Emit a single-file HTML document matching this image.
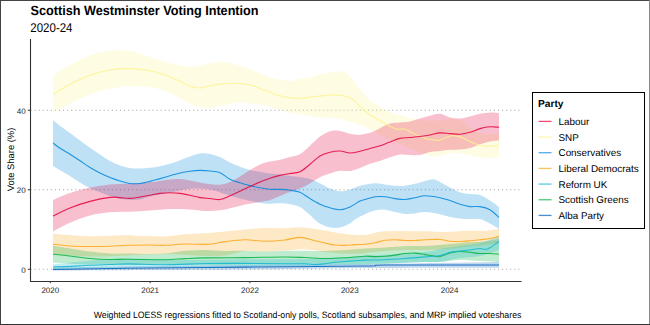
<!DOCTYPE html>
<html><head><meta charset="utf-8"><style>
html,body{margin:0;padding:0;background:#fff;}
body{width:650px;height:325px;overflow:hidden;position:relative;}
svg{position:absolute;left:0;top:0;}
text{font-family:"Liberation Sans",sans-serif;text-rendering:geometricPrecision;}
</style></head><body>
<svg width="650" height="325" viewBox="0 0 650 325">
<rect x="0" y="0" width="650" height="325" fill="#fff"/>
<g>
</g>
<g font-size="8" fill="#262626">
<line x1="27.8" x2="30.5" y1="269.25" y2="269.25" stroke="#333" stroke-width="1"/>
<line x1="30.5" x2="519.6" y1="269.25" y2="269.25" stroke="#A8A8A8" stroke-width="1" stroke-dasharray="1.1 2.965"/>
<text x="25.6" y="272.65" text-anchor="end">0</text>
<line x1="27.8" x2="30.5" y1="189.75" y2="189.75" stroke="#333" stroke-width="1"/>
<line x1="30.5" x2="519.6" y1="189.75" y2="189.75" stroke="#A8A8A8" stroke-width="1" stroke-dasharray="1.1 2.965"/>
<text x="25.6" y="193.15" text-anchor="end">20</text>
<line x1="27.8" x2="30.5" y1="110.25" y2="110.25" stroke="#333" stroke-width="1"/>
<line x1="30.5" x2="519.6" y1="110.25" y2="110.25" stroke="#A8A8A8" stroke-width="1" stroke-dasharray="1.1 2.965"/>
<text x="25.6" y="113.65" text-anchor="end">40</text>
<line x1="50.30" x2="50.30" y1="281" y2="283.2" stroke="#333" stroke-width="1"/>
<text x="50.30" y="292.5" text-anchor="middle">2020</text>
<line x1="150.13" x2="150.13" y1="281" y2="283.2" stroke="#333" stroke-width="1"/>
<text x="150.13" y="292.5" text-anchor="middle">2021</text>
<line x1="249.96" x2="249.96" y1="281" y2="283.2" stroke="#333" stroke-width="1"/>
<text x="249.96" y="292.5" text-anchor="middle">2022</text>
<line x1="349.79" x2="349.79" y1="281" y2="283.2" stroke="#333" stroke-width="1"/>
<text x="349.79" y="292.5" text-anchor="middle">2023</text>
<line x1="449.62" x2="449.62" y1="281" y2="283.2" stroke="#333" stroke-width="1"/>
<text x="449.62" y="292.5" text-anchor="middle">2024</text>
</g>
<g>
<path d="M53.00 267.50 C65.50 267.33 96.00 266.92 128.00 266.50 C160.00 266.08 205.50 265.42 245.00 265.00 C284.50 264.58 322.67 264.50 365.00 264.00 C407.33 263.50 476.67 262.33 499.00 262.00 L499.00 267.70 C476.67 267.75 407.33 267.70 365.00 268.00 C322.67 268.30 297.00 269.08 245.00 269.50 C193.00 269.92 85.00 270.33 53.00 270.50 Z" fill="#005EB8" fill-opacity="0.25"/>
<path d="M53.00 233.80 C59.17 234.20 78.00 235.97 90.00 236.20 C102.00 236.43 115.83 235.22 125.00 235.20 C134.17 235.18 138.33 235.90 145.00 236.10 C151.67 236.30 158.33 236.72 165.00 236.40 C171.67 236.08 178.33 234.73 185.00 234.20 C191.67 233.67 198.33 233.65 205.00 233.20 C211.67 232.75 218.33 232.12 225.00 231.50 C231.67 230.88 238.33 230.08 245.00 229.50 C251.67 228.92 258.33 228.22 265.00 228.00 C271.67 227.78 279.17 228.33 285.00 228.20 C290.83 228.07 293.33 226.82 300.00 227.20 C306.67 227.58 317.50 229.37 325.00 230.50 C332.50 231.63 338.33 233.25 345.00 234.00 C351.67 234.75 358.33 235.47 365.00 235.00 C371.67 234.53 375.00 231.83 385.00 231.20 C395.00 230.57 415.00 231.07 425.00 231.20 C435.00 231.33 438.33 232.08 445.00 232.00 C451.67 231.92 458.33 230.92 465.00 230.70 C471.67 230.48 479.33 231.02 485.00 230.70 C490.67 230.38 496.67 229.12 499.00 228.80 L499.00 243.60 C496.67 243.83 490.67 244.43 485.00 245.00 C479.33 245.57 471.67 246.30 465.00 247.00 C458.33 247.70 451.67 248.70 445.00 249.20 C438.33 249.70 431.67 249.87 425.00 250.00 C418.33 250.13 411.67 249.83 405.00 250.00 C398.33 250.17 391.67 250.50 385.00 251.00 C378.33 251.50 369.17 252.58 365.00 253.00 C360.83 253.42 363.33 253.38 360.00 253.50 C356.67 253.62 350.83 253.95 345.00 253.70 C339.17 253.45 331.67 252.75 325.00 252.00 C318.33 251.25 311.67 249.45 305.00 249.20 C298.33 248.95 291.67 250.07 285.00 250.50 C278.33 250.93 271.67 251.72 265.00 251.80 C258.33 251.88 251.67 250.38 245.00 251.00 C238.33 251.62 231.67 254.67 225.00 255.50 C218.33 256.33 215.00 256.25 205.00 256.00 C195.00 255.75 177.83 254.08 165.00 254.00 C152.17 253.92 140.50 255.08 128.00 255.50 C115.50 255.92 102.50 256.75 90.00 256.50 C77.50 256.25 59.17 254.42 53.00 254.00 Z" fill="#FAA61A" fill-opacity="0.25"/>
<path d="M53.00 245.80 C55.83 246.25 63.83 247.53 70.00 248.50 C76.17 249.47 83.33 250.77 90.00 251.60 C96.67 252.43 103.67 253.18 110.00 253.50 C116.33 253.82 122.17 253.42 128.00 253.50 C133.83 253.58 138.83 253.98 145.00 254.00 C151.17 254.02 158.33 254.13 165.00 253.60 C171.67 253.07 178.33 251.40 185.00 250.80 C191.67 250.20 198.33 249.97 205.00 250.00 C211.67 250.03 218.33 250.87 225.00 251.00 C231.67 251.13 238.33 250.72 245.00 250.80 C251.67 250.88 258.33 251.50 265.00 251.50 C271.67 251.50 278.33 250.92 285.00 250.80 C291.67 250.68 298.33 250.77 305.00 250.80 C311.67 250.83 318.33 251.13 325.00 251.00 C331.67 250.87 338.33 250.42 345.00 250.00 C351.67 249.58 358.33 248.92 365.00 248.50 C371.67 248.08 378.33 247.88 385.00 247.50 C391.67 247.12 398.33 246.45 405.00 246.20 C411.67 245.95 418.33 246.28 425.00 246.00 C431.67 245.72 438.33 245.08 445.00 244.50 C451.67 243.92 458.33 243.00 465.00 242.50 C471.67 242.00 479.33 242.08 485.00 241.50 C490.67 240.92 496.67 239.42 499.00 239.00 L499.00 262.00 C495.83 261.83 486.50 261.33 480.00 261.00 C473.50 260.67 466.67 259.83 460.00 260.00 C453.33 260.17 445.83 261.67 440.00 262.00 C434.17 262.33 437.50 261.67 425.00 262.00 C412.50 262.33 385.00 263.58 365.00 264.00 C345.00 264.42 331.67 264.33 305.00 264.50 C278.33 264.67 234.50 264.92 205.00 265.00 C175.50 265.08 147.17 265.08 128.00 265.00 C108.83 264.92 102.50 264.88 90.00 264.50 C77.50 264.12 59.17 263.00 53.00 262.70 Z" fill="#00B140" fill-opacity="0.25"/>
<path d="M53.00 264.20 C55.83 263.95 63.83 263.27 70.00 262.70 C76.17 262.13 83.33 261.32 90.00 260.80 C96.67 260.28 103.67 260.00 110.00 259.60 C116.33 259.20 115.50 258.33 128.00 258.40 C140.50 258.47 165.50 259.87 185.00 260.00 C204.50 260.13 225.00 259.37 245.00 259.20 C265.00 259.03 285.00 259.53 305.00 259.00 C325.00 258.47 345.00 257.17 365.00 256.00 C385.00 254.83 412.50 253.17 425.00 252.00 C437.50 250.83 434.17 250.00 440.00 249.00 C445.83 248.00 453.33 247.00 460.00 246.00 C466.67 245.00 473.50 244.67 480.00 243.00 C486.50 241.33 495.83 237.17 499.00 236.00 L499.00 250.00 C495.83 251.00 486.50 254.67 480.00 256.00 C473.50 257.33 466.67 257.00 460.00 258.00 C453.33 259.00 445.83 261.33 440.00 262.00 C434.17 262.67 437.50 261.58 425.00 262.00 C412.50 262.42 395.00 263.67 365.00 264.50 C335.00 265.33 284.50 266.42 245.00 267.00 C205.50 267.58 160.00 267.58 128.00 268.00 C96.00 268.42 65.50 269.25 53.00 269.50 Z" fill="#12B6CF" fill-opacity="0.25"/>
<path d="M53.00 120.20 C54.17 121.12 57.17 123.55 60.00 125.70 C62.83 127.85 66.67 130.63 70.00 133.10 C73.33 135.57 76.67 138.05 80.00 140.50 C83.33 142.95 86.67 145.47 90.00 147.80 C93.33 150.13 96.67 152.30 100.00 154.50 C103.33 156.70 106.67 159.17 110.00 161.00 C113.33 162.83 116.67 164.33 120.00 165.50 C123.33 166.67 126.67 167.50 130.00 168.00 C133.33 168.50 136.67 168.53 140.00 168.50 C143.33 168.47 146.67 168.18 150.00 167.80 C153.33 167.42 156.67 166.87 160.00 166.20 C163.33 165.53 166.67 164.80 170.00 163.80 C173.33 162.80 176.67 161.42 180.00 160.20 C183.33 158.98 186.67 157.62 190.00 156.50 C193.33 155.38 196.67 153.93 200.00 153.50 C203.33 153.07 206.67 153.32 210.00 153.90 C213.33 154.48 216.67 155.57 220.00 157.00 C223.33 158.43 226.67 160.87 230.00 162.50 C233.33 164.13 236.67 165.55 240.00 166.80 C243.33 168.05 246.67 169.17 250.00 170.00 C253.33 170.83 256.67 171.20 260.00 171.80 C263.33 172.40 266.67 173.15 270.00 173.60 C273.33 174.05 275.83 174.02 280.00 174.50 C284.17 174.98 290.00 175.75 295.00 176.50 C300.00 177.25 305.83 177.83 310.00 179.00 C314.17 180.17 316.67 181.92 320.00 183.50 C323.33 185.08 326.67 187.22 330.00 188.50 C333.33 189.78 336.67 191.05 340.00 191.20 C343.33 191.35 346.67 190.32 350.00 189.40 C353.33 188.48 355.83 186.72 360.00 185.70 C364.17 184.68 370.83 183.52 375.00 183.30 C379.17 183.08 381.67 184.00 385.00 184.40 C388.33 184.80 391.67 185.48 395.00 185.70 C398.33 185.92 401.67 186.02 405.00 185.70 C408.33 185.38 411.67 184.58 415.00 183.80 C418.33 183.02 422.00 181.77 425.00 181.00 C428.00 180.23 430.50 179.03 433.00 179.20 C435.50 179.37 437.17 180.62 440.00 182.00 C442.83 183.38 446.67 185.80 450.00 187.50 C453.33 189.20 456.67 191.12 460.00 192.20 C463.33 193.28 466.67 193.53 470.00 194.00 C473.33 194.47 476.67 193.92 480.00 195.00 C483.33 196.08 486.83 198.50 490.00 200.50 C493.17 202.50 497.50 205.92 499.00 207.00 L499.00 229.00 C497.50 228.08 493.17 225.17 490.00 223.50 C486.83 221.83 483.33 219.75 480.00 219.00 C476.67 218.25 473.33 219.10 470.00 219.00 C466.67 218.90 463.33 218.73 460.00 218.40 C456.67 218.07 453.33 217.68 450.00 217.00 C446.67 216.32 444.17 215.12 440.00 214.30 C435.83 213.48 429.17 212.25 425.00 212.10 C420.83 211.95 418.33 213.10 415.00 213.40 C411.67 213.70 408.33 214.12 405.00 213.90 C401.67 213.68 398.33 212.80 395.00 212.10 C391.67 211.40 388.33 209.95 385.00 209.70 C381.67 209.45 378.33 209.83 375.00 210.60 C371.67 211.37 368.33 212.82 365.00 214.30 C361.67 215.78 357.50 217.97 355.00 219.50 C352.50 221.03 352.50 222.17 350.00 223.50 C347.50 224.83 343.33 226.83 340.00 227.50 C336.67 228.17 333.33 228.17 330.00 227.50 C326.67 226.83 322.67 224.92 320.00 223.50 C317.33 222.08 315.67 220.42 314.00 219.00 C312.33 217.58 312.33 217.00 310.00 215.00 C307.67 213.00 303.33 208.80 300.00 207.00 C296.67 205.20 293.33 204.83 290.00 204.20 C286.67 203.57 284.17 203.32 280.00 203.20 C275.83 203.08 270.83 204.08 265.00 203.50 C259.17 202.92 251.67 201.28 245.00 199.70 C238.33 198.12 230.83 195.70 225.00 194.00 C219.17 192.30 215.83 190.38 210.00 189.50 C204.17 188.62 196.67 188.20 190.00 188.70 C183.33 189.20 176.67 191.20 170.00 192.50 C163.33 193.80 155.00 195.33 150.00 196.50 C145.00 197.67 144.17 199.00 140.00 199.50 C135.83 200.00 130.00 200.08 125.00 199.50 C120.00 198.92 115.83 197.92 110.00 196.00 C104.17 194.08 95.00 190.25 90.00 188.00 C85.00 185.75 84.17 185.00 80.00 182.50 C75.83 180.00 69.50 175.75 65.00 173.00 C60.50 170.25 55.00 167.17 53.00 166.00 Z" fill="#0087DC" fill-opacity="0.25"/>
<path d="M53.00 76.00 C55.83 74.17 63.83 68.42 70.00 65.00 C76.17 61.58 83.33 57.87 90.00 55.50 C96.67 53.13 103.33 51.55 110.00 50.80 C116.67 50.05 123.33 49.97 130.00 51.00 C136.67 52.03 143.33 55.00 150.00 57.00 C156.67 59.00 163.33 61.37 170.00 63.00 C176.67 64.63 183.33 66.72 190.00 66.80 C196.67 66.88 205.00 64.30 210.00 63.50 C215.00 62.70 216.67 62.10 220.00 62.00 C223.33 61.90 226.67 62.28 230.00 62.90 C233.33 63.52 236.67 64.68 240.00 65.70 C243.33 66.72 245.00 67.07 250.00 69.00 C255.00 70.93 263.67 75.30 270.00 77.30 C276.33 79.30 283.00 80.72 288.00 81.00 C293.00 81.28 296.33 79.63 300.00 79.00 C303.67 78.37 306.67 77.97 310.00 77.20 C313.33 76.43 316.67 75.18 320.00 74.40 C323.33 73.62 327.17 73.03 330.00 72.50 C332.83 71.97 334.50 71.20 337.00 71.20 C339.50 71.20 342.83 71.67 345.00 72.50 C347.17 73.33 348.33 74.50 350.00 76.20 C351.67 77.90 353.33 80.53 355.00 82.70 C356.67 84.87 357.50 86.28 360.00 89.20 C362.50 92.12 366.67 97.28 370.00 100.20 C373.33 103.12 376.67 104.65 380.00 106.70 C383.33 108.75 386.67 111.07 390.00 112.50 C393.33 113.93 396.67 114.38 400.00 115.30 C403.33 116.22 405.00 117.05 410.00 118.00 C415.00 118.95 423.33 120.83 430.00 121.00 C436.67 121.17 445.00 119.17 450.00 119.00 C455.00 118.83 456.67 118.55 460.00 120.00 C463.33 121.45 466.67 125.50 470.00 127.70 C473.33 129.90 476.67 132.12 480.00 133.20 C483.33 134.28 486.83 134.07 490.00 134.20 C493.17 134.33 497.50 134.03 499.00 134.00 L499.00 157.20 C497.50 157.37 493.17 158.20 490.00 158.20 C486.83 158.20 483.33 157.67 480.00 157.20 C476.67 156.73 473.33 156.02 470.00 155.40 C466.67 154.78 463.33 153.90 460.00 153.50 C456.67 153.10 453.33 152.58 450.00 153.00 C446.67 153.42 443.33 155.50 440.00 156.00 C436.67 156.50 433.33 156.67 430.00 156.00 C426.67 155.33 423.33 153.33 420.00 152.00 C416.67 150.67 413.33 149.33 410.00 148.00 C406.67 146.67 403.33 145.33 400.00 144.00 C396.67 142.67 393.33 141.50 390.00 140.00 C386.67 138.50 383.33 136.80 380.00 135.00 C376.67 133.20 373.33 130.95 370.00 129.20 C366.67 127.45 363.33 125.73 360.00 124.50 C356.67 123.27 353.33 122.72 350.00 121.80 C346.67 120.88 343.33 119.62 340.00 119.00 C336.67 118.38 333.33 118.40 330.00 118.10 C326.67 117.80 325.83 117.97 320.00 117.20 C314.17 116.43 302.17 114.87 295.00 113.50 C287.83 112.13 282.17 110.38 277.00 109.00 C271.83 107.62 270.17 106.28 264.00 105.20 C257.83 104.12 246.50 102.53 240.00 102.50 C233.50 102.47 230.83 104.08 225.00 105.00 C219.17 105.92 210.83 108.17 205.00 108.00 C199.17 107.83 195.83 106.52 190.00 104.00 C184.17 101.48 176.67 95.68 170.00 92.90 C163.33 90.12 156.67 88.40 150.00 87.30 C143.33 86.20 136.67 86.07 130.00 86.30 C123.33 86.53 116.67 87.38 110.00 88.70 C103.33 90.02 96.67 91.73 90.00 94.20 C83.33 96.67 76.17 100.43 70.00 103.50 C63.83 106.57 55.83 111.08 53.00 112.60 Z" fill="#FDF38E" fill-opacity="0.25"/>
<path d="M53.00 200.00 C55.83 198.83 63.83 195.08 70.00 193.00 C76.17 190.92 83.33 188.90 90.00 187.50 C96.67 186.10 103.33 185.28 110.00 184.60 C116.67 183.92 123.33 183.78 130.00 183.40 C136.67 183.02 143.33 182.95 150.00 182.30 C156.67 181.65 165.00 180.05 170.00 179.50 C175.00 178.95 176.67 178.83 180.00 179.00 C183.33 179.17 185.83 179.75 190.00 180.50 C194.17 181.25 200.00 182.80 205.00 183.50 C210.00 184.20 215.83 184.95 220.00 184.70 C224.17 184.45 226.67 183.38 230.00 182.00 C233.33 180.62 236.67 178.40 240.00 176.40 C243.33 174.40 246.67 172.00 250.00 170.00 C253.33 168.00 256.67 165.80 260.00 164.40 C263.33 163.00 266.67 162.38 270.00 161.60 C273.33 160.82 276.67 160.48 280.00 159.70 C283.33 158.92 286.67 157.82 290.00 156.90 C293.33 155.98 296.67 156.05 300.00 154.20 C303.33 152.35 306.67 148.73 310.00 145.80 C313.33 142.87 316.67 139.03 320.00 136.60 C323.33 134.17 326.67 132.13 330.00 131.20 C333.33 130.27 336.67 130.57 340.00 131.00 C343.33 131.43 346.67 133.18 350.00 133.80 C353.33 134.42 356.67 134.87 360.00 134.70 C363.33 134.53 366.67 133.88 370.00 132.80 C373.33 131.72 376.67 129.73 380.00 128.20 C383.33 126.67 386.67 124.53 390.00 123.60 C393.33 122.67 396.67 122.95 400.00 122.60 C403.33 122.25 406.67 122.18 410.00 121.50 C413.33 120.82 416.67 119.47 420.00 118.50 C423.33 117.53 426.67 116.48 430.00 115.70 C433.33 114.92 436.67 113.50 440.00 113.80 C443.33 114.10 446.67 116.72 450.00 117.50 C453.33 118.28 456.67 118.65 460.00 118.50 C463.33 118.35 466.67 117.38 470.00 116.60 C473.33 115.82 476.67 114.47 480.00 113.80 C483.33 113.13 486.83 112.68 490.00 112.60 C493.17 112.52 497.50 113.18 499.00 113.30 L499.00 140.60 C497.50 140.75 493.17 140.88 490.00 141.50 C486.83 142.12 483.33 143.22 480.00 144.30 C476.67 145.38 473.33 147.13 470.00 148.00 C466.67 148.87 463.33 149.20 460.00 149.50 C456.67 149.80 453.33 149.55 450.00 149.80 C446.67 150.05 443.33 150.63 440.00 151.00 C436.67 151.37 433.33 151.33 430.00 152.00 C426.67 152.67 423.33 154.50 420.00 155.00 C416.67 155.50 413.33 155.08 410.00 155.00 C406.67 154.92 403.33 154.12 400.00 154.50 C396.67 154.88 393.33 156.22 390.00 157.30 C386.67 158.38 383.33 159.92 380.00 161.00 C376.67 162.08 373.33 162.63 370.00 163.80 C366.67 164.97 363.33 166.80 360.00 168.00 C356.67 169.20 353.33 170.53 350.00 171.00 C346.67 171.47 343.33 170.38 340.00 170.80 C336.67 171.22 333.33 172.43 330.00 173.50 C326.67 174.57 324.17 175.08 320.00 177.20 C315.83 179.32 310.00 183.73 305.00 186.20 C300.00 188.67 294.17 190.37 290.00 192.00 C285.83 193.63 283.33 194.67 280.00 196.00 C276.67 197.33 273.33 199.00 270.00 200.00 C266.67 201.00 264.17 201.23 260.00 202.00 C255.83 202.77 250.83 203.35 245.00 204.60 C239.17 205.85 231.67 208.43 225.00 209.50 C218.33 210.57 210.83 211.00 205.00 211.00 C199.17 211.00 195.83 209.83 190.00 209.50 C184.17 209.17 176.67 208.83 170.00 209.00 C163.33 209.17 156.67 210.05 150.00 210.50 C143.33 210.95 136.67 211.42 130.00 211.70 C123.33 211.98 116.67 211.58 110.00 212.20 C103.33 212.82 96.67 213.63 90.00 215.40 C83.33 217.17 76.17 220.13 70.00 222.80 C63.83 225.47 55.83 229.97 53.00 231.40 Z" fill="#E4003B" fill-opacity="0.25"/>
</g>
<g>
<path d="M53.00 269.50 C65.50 269.28 96.00 268.60 128.00 268.20 C160.00 267.80 205.50 267.47 245.00 267.10 C284.50 266.73 341.67 266.35 365.00 266.00 C388.33 265.65 362.67 265.17 385.00 265.00 C407.33 264.83 480.00 265.00 499.00 265.00" fill="none" stroke="#005EB8" stroke-width="1.1" stroke-opacity="0.85"/>
<path d="M53.00 244.20 C55.83 244.50 63.83 245.62 70.00 246.00 C76.17 246.38 83.33 246.45 90.00 246.50 C96.67 246.55 103.67 246.50 110.00 246.30 C116.33 246.10 121.33 245.52 128.00 245.30 C134.67 245.08 143.83 245.00 150.00 245.00 C156.17 245.00 159.17 245.47 165.00 245.30 C170.83 245.13 178.33 244.15 185.00 244.00 C191.67 243.85 200.00 244.48 205.00 244.40 C210.00 244.32 211.67 243.97 215.00 243.50 C218.33 243.03 220.00 242.22 225.00 241.60 C230.00 240.98 238.33 239.87 245.00 239.80 C251.67 239.73 258.33 241.17 265.00 241.20 C271.67 241.23 279.17 240.63 285.00 240.00 C290.83 239.37 295.00 237.27 300.00 237.40 C305.00 237.53 310.83 239.87 315.00 240.80 C319.17 241.73 321.67 242.30 325.00 243.00 C328.33 243.70 331.67 244.60 335.00 245.00 C338.33 245.40 341.67 245.47 345.00 245.40 C348.33 245.33 351.67 244.78 355.00 244.60 C358.33 244.42 361.67 244.60 365.00 244.30 C368.33 244.00 371.67 243.47 375.00 242.80 C378.33 242.13 381.67 240.82 385.00 240.30 C388.33 239.78 391.67 239.67 395.00 239.70 C398.33 239.73 401.67 240.37 405.00 240.50 C408.33 240.63 411.67 240.63 415.00 240.50 C418.33 240.37 420.83 239.87 425.00 239.70 C429.17 239.53 435.83 239.25 440.00 239.50 C444.17 239.75 446.67 240.87 450.00 241.20 C453.33 241.53 456.67 241.57 460.00 241.50 C463.33 241.43 466.67 241.10 470.00 240.80 C473.33 240.50 476.67 240.08 480.00 239.70 C483.33 239.32 486.83 239.08 490.00 238.50 C493.17 237.92 497.50 236.58 499.00 236.20" fill="none" stroke="#FAA61A" stroke-width="1.1" stroke-opacity="0.85"/>
<path d="M53.00 254.20 C55.83 254.50 63.83 255.28 70.00 256.00 C76.17 256.72 83.33 257.92 90.00 258.50 C96.67 259.08 103.67 259.38 110.00 259.50 C116.33 259.62 118.83 259.17 128.00 259.20 C137.17 259.23 155.50 259.80 165.00 259.70 C174.50 259.60 178.33 258.90 185.00 258.60 C191.67 258.30 195.00 258.07 205.00 257.90 C215.00 257.73 231.67 257.75 245.00 257.60 C258.33 257.45 275.00 257.02 285.00 257.00 C295.00 256.98 298.33 257.25 305.00 257.50 C311.67 257.75 318.33 258.45 325.00 258.50 C331.67 258.55 338.33 258.18 345.00 257.80 C351.67 257.42 360.00 256.40 365.00 256.20 C370.00 256.00 371.67 256.60 375.00 256.60 C378.33 256.60 381.67 256.45 385.00 256.20 C388.33 255.95 391.67 255.55 395.00 255.10 C398.33 254.65 401.67 253.83 405.00 253.50 C408.33 253.17 411.67 252.92 415.00 253.10 C418.33 253.28 421.67 254.08 425.00 254.60 C428.33 255.12 432.50 255.88 435.00 256.20 C437.50 256.52 437.50 257.03 440.00 256.50 C442.50 255.97 446.67 253.83 450.00 253.00 C453.33 252.17 456.67 251.62 460.00 251.50 C463.33 251.38 466.67 251.97 470.00 252.30 C473.33 252.63 476.67 253.30 480.00 253.50 C483.33 253.70 486.83 253.38 490.00 253.50 C493.17 253.62 497.50 254.08 499.00 254.20" fill="none" stroke="#00B140" stroke-width="1.1" stroke-opacity="0.85"/>
<path d="M53.00 267.00 C55.83 266.90 63.83 266.70 70.00 266.40 C76.17 266.10 83.33 265.52 90.00 265.20 C96.67 264.88 103.67 264.72 110.00 264.50 C116.33 264.28 118.83 263.87 128.00 263.90 C137.17 263.93 152.17 264.77 165.00 264.70 C177.83 264.63 191.67 263.72 205.00 263.50 C218.33 263.28 231.67 263.35 245.00 263.40 C258.33 263.45 275.00 263.73 285.00 263.80 C295.00 263.87 300.00 263.67 305.00 263.80 C310.00 263.93 311.67 264.60 315.00 264.60 C318.33 264.60 321.67 264.18 325.00 263.80 C328.33 263.42 331.67 262.68 335.00 262.30 C338.33 261.92 341.67 261.75 345.00 261.50 C348.33 261.25 351.67 261.03 355.00 260.80 C358.33 260.57 360.00 260.28 365.00 260.10 C370.00 259.92 378.33 259.97 385.00 259.70 C391.67 259.43 398.33 258.97 405.00 258.50 C411.67 258.03 419.17 257.40 425.00 256.90 C430.83 256.40 435.83 256.27 440.00 255.50 C444.17 254.73 446.67 253.05 450.00 252.30 C453.33 251.55 456.67 251.38 460.00 251.00 C463.33 250.62 466.67 250.42 470.00 250.00 C473.33 249.58 477.50 248.58 480.00 248.50 C482.50 248.42 483.33 249.63 485.00 249.50 C486.67 249.37 487.67 249.03 490.00 247.70 C492.33 246.37 497.50 242.53 499.00 241.50" fill="none" stroke="#12B6CF" stroke-width="1.1" stroke-opacity="0.85"/>
<path d="M53.00 143.00 C54.17 143.87 57.17 146.32 60.00 148.20 C62.83 150.08 66.67 152.20 70.00 154.30 C73.33 156.40 76.67 158.60 80.00 160.80 C83.33 163.00 86.67 165.47 90.00 167.50 C93.33 169.53 96.67 171.33 100.00 173.00 C103.33 174.67 106.67 176.17 110.00 177.50 C113.33 178.83 116.67 180.00 120.00 181.00 C123.33 182.00 126.67 183.08 130.00 183.50 C133.33 183.92 136.67 183.85 140.00 183.50 C143.33 183.15 146.67 182.22 150.00 181.40 C153.33 180.58 156.67 179.53 160.00 178.60 C163.33 177.67 166.67 176.73 170.00 175.80 C173.33 174.87 176.67 173.77 180.00 173.00 C183.33 172.23 186.67 171.63 190.00 171.20 C193.33 170.77 196.67 170.43 200.00 170.40 C203.33 170.37 206.67 170.62 210.00 171.00 C213.33 171.38 216.67 171.33 220.00 172.70 C223.33 174.07 226.67 177.52 230.00 179.20 C233.33 180.88 236.67 181.73 240.00 182.80 C243.33 183.87 246.67 184.77 250.00 185.60 C253.33 186.43 256.67 187.18 260.00 187.80 C263.33 188.42 266.67 189.03 270.00 189.30 C273.33 189.57 276.67 189.23 280.00 189.40 C283.33 189.57 286.67 189.83 290.00 190.30 C293.33 190.77 296.67 190.82 300.00 192.20 C303.33 193.58 306.67 196.60 310.00 198.60 C313.33 200.60 316.67 202.67 320.00 204.20 C323.33 205.73 326.67 206.88 330.00 207.80 C333.33 208.72 336.67 209.85 340.00 209.70 C343.33 209.55 346.67 208.35 350.00 206.90 C353.33 205.45 357.50 202.23 360.00 201.00 C362.50 199.77 362.50 200.20 365.00 199.50 C367.50 198.80 371.67 197.25 375.00 196.80 C378.33 196.35 381.67 196.50 385.00 196.80 C388.33 197.10 391.67 198.15 395.00 198.60 C398.33 199.05 401.67 199.65 405.00 199.50 C408.33 199.35 411.67 198.32 415.00 197.70 C418.33 197.08 420.83 195.80 425.00 195.80 C429.17 195.80 435.83 196.92 440.00 197.70 C444.17 198.48 446.67 199.42 450.00 200.50 C453.33 201.58 456.67 203.18 460.00 204.20 C463.33 205.22 466.67 206.20 470.00 206.60 C473.33 207.00 476.67 206.08 480.00 206.60 C483.33 207.12 486.83 207.87 490.00 209.70 C493.17 211.53 497.50 216.28 499.00 217.60" fill="none" stroke="#0087DC" stroke-width="1.1" stroke-opacity="0.85"/>
<path d="M53.00 94.60 C55.83 92.88 63.83 87.53 70.00 84.30 C76.17 81.07 83.33 77.58 90.00 75.20 C96.67 72.82 103.33 71.10 110.00 70.00 C116.67 68.90 123.33 68.47 130.00 68.60 C136.67 68.73 143.33 69.42 150.00 70.80 C156.67 72.18 163.33 74.37 170.00 76.90 C176.67 79.43 185.00 84.15 190.00 86.00 C195.00 87.85 196.67 88.03 200.00 88.00 C203.33 87.97 206.67 86.43 210.00 85.80 C213.33 85.17 215.83 84.62 220.00 84.20 C224.17 83.78 230.00 83.17 235.00 83.30 C240.00 83.43 245.17 83.88 250.00 85.00 C254.83 86.12 259.50 88.33 264.00 90.00 C268.50 91.67 272.67 93.70 277.00 95.00 C281.33 96.30 286.17 97.23 290.00 97.80 C293.83 98.37 296.67 98.52 300.00 98.40 C303.33 98.28 306.67 97.50 310.00 97.10 C313.33 96.70 316.67 96.32 320.00 96.00 C323.33 95.68 326.67 95.33 330.00 95.20 C333.33 95.07 337.00 94.88 340.00 95.20 C343.00 95.52 345.50 96.10 348.00 97.10 C350.50 98.10 352.50 99.13 355.00 101.20 C357.50 103.27 360.50 107.28 363.00 109.50 C365.50 111.72 367.17 112.62 370.00 114.50 C372.83 116.38 376.67 118.82 380.00 120.80 C383.33 122.78 387.17 125.00 390.00 126.40 C392.83 127.80 394.50 128.73 397.00 129.20 C399.50 129.67 402.50 128.60 405.00 129.20 C407.50 129.80 409.50 131.58 412.00 132.80 C414.50 134.02 417.00 135.38 420.00 136.50 C423.00 137.62 426.67 138.88 430.00 139.50 C433.33 140.12 436.67 140.78 440.00 140.20 C443.33 139.62 446.67 136.55 450.00 136.00 C453.33 135.45 456.67 135.98 460.00 136.90 C463.33 137.82 466.67 140.12 470.00 141.50 C473.33 142.88 476.67 144.42 480.00 145.20 C483.33 145.98 486.83 146.20 490.00 146.20 C493.17 146.20 497.50 145.37 499.00 145.20" fill="none" stroke="#FDF38E" stroke-width="1.1" stroke-opacity="0.85"/>
<path d="M53.00 216.00 C55.83 214.67 63.83 210.43 70.00 208.00 C76.17 205.57 83.33 203.17 90.00 201.40 C96.67 199.63 105.00 198.03 110.00 197.40 C115.00 196.77 116.67 197.43 120.00 197.60 C123.33 197.77 126.67 198.50 130.00 198.40 C133.33 198.30 136.67 197.53 140.00 197.00 C143.33 196.47 146.67 195.80 150.00 195.20 C153.33 194.60 156.67 193.80 160.00 193.40 C163.33 193.00 166.67 192.80 170.00 192.80 C173.33 192.80 176.67 193.00 180.00 193.40 C183.33 193.80 186.67 194.50 190.00 195.20 C193.33 195.90 196.67 197.05 200.00 197.60 C203.33 198.15 206.67 198.18 210.00 198.50 C213.33 198.82 216.67 199.95 220.00 199.50 C223.33 199.05 226.67 197.18 230.00 195.80 C233.33 194.42 236.67 192.75 240.00 191.20 C243.33 189.65 246.67 188.05 250.00 186.50 C253.33 184.95 256.67 183.28 260.00 181.90 C263.33 180.52 266.67 179.28 270.00 178.20 C273.33 177.12 276.67 176.18 280.00 175.40 C283.33 174.62 286.67 174.12 290.00 173.50 C293.33 172.88 296.67 173.23 300.00 171.70 C303.33 170.17 306.67 166.92 310.00 164.30 C313.33 161.68 316.67 158.00 320.00 156.00 C323.33 154.00 326.67 153.13 330.00 152.30 C333.33 151.47 336.67 150.88 340.00 151.00 C343.33 151.12 346.67 152.95 350.00 153.00 C353.33 153.05 356.67 152.05 360.00 151.30 C363.33 150.55 366.67 149.42 370.00 148.50 C373.33 147.58 376.67 146.88 380.00 145.80 C383.33 144.72 386.67 143.23 390.00 142.00 C393.33 140.77 396.67 139.15 400.00 138.40 C403.33 137.65 406.67 137.82 410.00 137.50 C413.33 137.18 416.67 136.92 420.00 136.50 C423.33 136.08 426.67 135.60 430.00 135.00 C433.33 134.40 436.67 133.13 440.00 132.90 C443.33 132.67 446.67 133.38 450.00 133.60 C453.33 133.82 456.67 134.42 460.00 134.20 C463.33 133.98 466.67 133.23 470.00 132.30 C473.33 131.37 476.67 129.52 480.00 128.60 C483.33 127.68 486.83 127.02 490.00 126.80 C493.17 126.58 497.50 127.22 499.00 127.30" fill="none" stroke="#E4003B" stroke-width="1.1" stroke-opacity="0.85"/>
</g>
<line x1="30.5" x2="30.5" y1="39" y2="281.5" stroke="#333" stroke-width="1.1"/>
<line x1="30" x2="521.5" y1="281.5" y2="281.5" stroke="#333" stroke-width="1.1"/>
<text transform="translate(30.5,15.1) scale(1,1.05)" x="0" y="0" font-size="12.66" font-weight="bold" fill="#000">Scottish Westminster Voting Intention</text>
<text transform="translate(30.3,31.6) scale(1,1.1)" x="0" y="0" font-size="11.5" fill="#000">2020-24</text>
<text transform="translate(13.6,159.5) rotate(-90)" text-anchor="middle" font-size="9.4" fill="#000">Vote Share (%)</text>
<text transform="translate(521.4,317.6) scale(1,1.05)" x="0" y="0" text-anchor="end" font-size="8.76" fill="#000">Weighted LOESS regressions fitted to Scotland-only polls, Scotland subsamples, and MRP implied voteshares</text>
<rect x="532.5" y="92.5" width="112" height="136" fill="#fff" stroke="#000" stroke-width="1"/>
<text x="538" y="107.2" font-size="10.2" font-weight="bold" fill="#000">Party</text>
<g font-size="9.9" fill="#000">
<line x1="538.6" x2="551.5" y1="121.40" y2="121.40" stroke="#E4003B" stroke-width="1.3" stroke-opacity="0.7"/>
<text x="558.5" y="125.00">Labour</text>
<line x1="538.6" x2="551.5" y1="137.07" y2="137.07" stroke="#FDF38E" stroke-width="1.3" stroke-opacity="0.7"/>
<text x="558.5" y="140.67">SNP</text>
<line x1="538.6" x2="551.5" y1="152.74" y2="152.74" stroke="#0087DC" stroke-width="1.3" stroke-opacity="0.7"/>
<text x="558.5" y="156.34">Conservatives</text>
<line x1="538.6" x2="551.5" y1="168.41" y2="168.41" stroke="#FAA61A" stroke-width="1.3" stroke-opacity="0.7"/>
<text x="558.5" y="172.01">Liberal Democrats</text>
<line x1="538.6" x2="551.5" y1="184.08" y2="184.08" stroke="#12B6CF" stroke-width="1.3" stroke-opacity="0.7"/>
<text x="558.5" y="187.68">Reform UK</text>
<line x1="538.6" x2="551.5" y1="199.75" y2="199.75" stroke="#00B140" stroke-width="1.3" stroke-opacity="0.7"/>
<text x="558.5" y="203.35">Scottish Greens</text>
<line x1="538.6" x2="551.5" y1="215.42" y2="215.42" stroke="#005EB8" stroke-width="1.3" stroke-opacity="0.7"/>
<text x="558.5" y="219.02">Alba Party</text>
</g>
<line x1="0" x2="650" y1="0.5" y2="0.5" stroke="#444" stroke-width="1"/>
<line x1="0.5" x2="0.5" y1="0" y2="325" stroke="#444" stroke-width="1"/>
<line x1="649.5" x2="649.5" y1="0" y2="325" stroke="#888" stroke-width="1"/>
<line x1="0" x2="650" y1="324.5" y2="324.5" stroke="#333" stroke-width="1"/>
</svg>
</body></html>
